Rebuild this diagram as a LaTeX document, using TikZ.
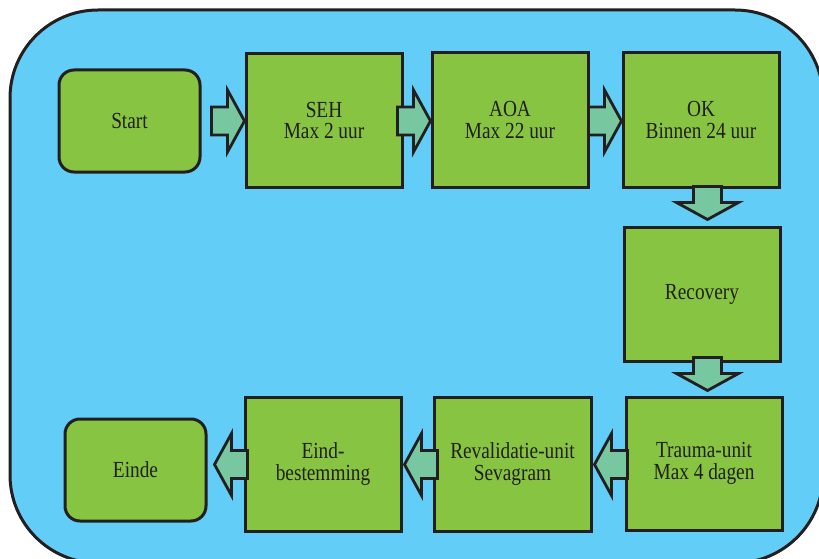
\documentclass[tikz,border=0pt]{standalone}
\usepackage{fontspec}
\setmainfont{Liberation Serif}[FakeStretch=0.84]
\usetikzlibrary{calc}
\definecolor{bgblue}{HTML}{62CDF6}
\definecolor{boxgreen}{HTML}{86C441}
\definecolor{arrowgreen}{HTML}{77C8A0}
\definecolor{ink}{HTML}{231F20}
\tikzset{
  stepbox/.style={draw=ink, line width=3pt, fill=boxgreen, text=ink, align=center,
    font=\rmfamily\fontsize{23}{21.5}\selectfont, inner sep=0pt},
  squarebox/.style={stepbox, minimum width=156pt, minimum height=134pt},
  roundbox/.style={stepbox, rounded corners=15pt, minimum width=141pt, minimum height=102pt},
  arrowstyle/.style={draw=ink, line width=2.8pt, fill=arrowgreen, line join=miter},
  blockarrow/.pic={\draw[arrowstyle] (0,0) -- (-17,-31) -- (-17,-14) -- (-33,-14) -- (-33,14) -- (-17,14) -- (-17,31) -- cycle;}
}
\begin{document}
\begin{tikzpicture}[x=1pt,y=-1pt]
\useasboundingbox (0,0) rectangle (819,559);
\begin{scope}
\clip (0,0) rectangle (819,559);
\draw[line width=3pt, fill=bgblue, draw=ink, rounded corners=88pt] (10,10) rectangle (823,563);
\end{scope}

\node[roundbox] (start) at (129.5,121) {Start};
\node[squarebox, minimum height=133pt] (seh) at (324,120.5) {SEH\\Max 2 uur};
\node[squarebox] (aoa) at (510,120) {AOA\\Max 22 uur};
\node[squarebox] (ok) at (701,120) {OK\\Binnen 24 uur};
\node[squarebox] (rec) at (702,294) {Recovery};
\node[squarebox, minimum height=133pt] (trauma) at (704,463.5) {Trauma-unit\\Max 4 dagen};
\node[squarebox, minimum width=157pt] (reval) at (512.5,464) {Revalidatie-unit\\Sevagram};
\node[squarebox] (eind) at (323,464) {Eind-\\bestemming};
\node[roundbox] (einde) at (135.5,470) {Einde};

\pic at ($(seh.west)+(0,0.5)$) {blockarrow};
\pic at ($(aoa.west)+(0,1)$) {blockarrow};
\pic at ($(ok.west)+(0,1)$) {blockarrow};
\pic[rotate=-90] at ($(rec.north)+(5.5,-6)$) {blockarrow};
\pic[rotate=-90] at ($(trauma.north)+(3.5,-5)$) {blockarrow};
\pic[rotate=180] at ($(reval.east)+(2,0.5)$) {blockarrow};
\pic[rotate=180] at ($(eind.east)+(2,0.5)$) {blockarrow};
\pic[rotate=180] at ($(einde.east |- eind.west)+(7,0.5)$) {blockarrow};
\end{tikzpicture}
\end{document}
